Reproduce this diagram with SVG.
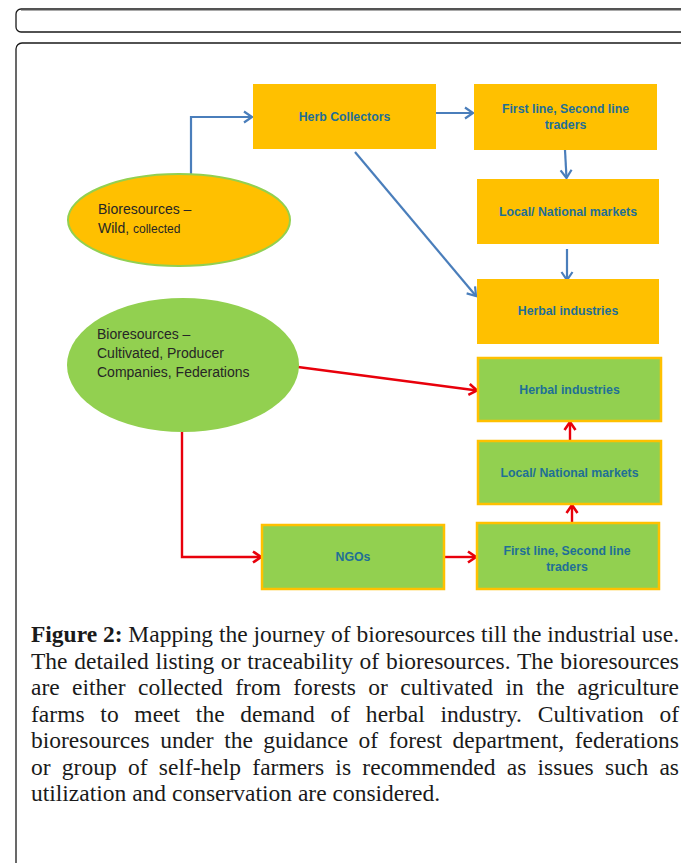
<svg xmlns="http://www.w3.org/2000/svg" width="681" height="863" viewBox="0 0 681 863">
<style>
.frame{fill:none;stroke:#1a1a1a;stroke-width:1.3}
.ybox{fill:#FFC000}
.gbox{fill:#92D050;stroke:#FFC000;stroke-width:2.5}
.lbl{font-family:"Liberation Sans",Arial,sans-serif;font-weight:bold;font-size:12.3px;fill:#1F6F96;text-anchor:middle}
.etx{font-family:"Liberation Sans",Arial,sans-serif;font-size:14px;fill:#262626}
.blue{fill:none;stroke:#4A7EBB;stroke-width:2.2;marker-end:url(#ab)}
.red{fill:none;stroke:#E8000B;stroke-width:2.4;marker-end:url(#ar)}
.cap{font-family:"Liberation Serif","Times New Roman",serif;font-size:23.5px;fill:#1a1a1a}
</style>
<defs>
<marker id="ab" markerUnits="userSpaceOnUse" markerWidth="12" markerHeight="14" refX="10" refY="7" orient="auto"><path d="M2,1.5 L10,7 L2,12.5" fill="none" stroke="#4A7EBB" stroke-width="2.2"/></marker>
<marker id="ar" markerUnits="userSpaceOnUse" markerWidth="12" markerHeight="14" refX="10" refY="7" orient="auto"><path d="M2,1.5 L10,7 L2,12.5" fill="none" stroke="#E8000B" stroke-width="2.6"/></marker>
</defs>
<rect width="681" height="863" fill="#fff"/>
<g id="frames">
<rect class="frame" x="16" y="9" width="720" height="23" rx="5"/>
<line x1="21" y1="9.5" x2="681" y2="9.5" stroke="#555" stroke-width="2"/>
<rect class="frame" x="16" y="43" width="720" height="900" rx="6"/>
</g>
<g id="connectors">
<path class="blue" d="M191,175 V117 H252"/>
<path class="blue" d="M436,113 H473"/>
<path class="blue" d="M565,150 L566.5,178"/>
<path class="blue" d="M567,249 V280"/>
<path class="blue" d="M355,152 L476,296"/>
<path class="red" d="M298,367 L477,390.5"/>
<path class="red" d="M182,432 V557 H261"/>
<path class="red" d="M444,557 H476"/>
<path class="red" d="M572,523 V505"/>
<path class="red" d="M570,441 V422"/>
</g>
<g id="wild">
<ellipse cx="179" cy="220" rx="111" ry="46" fill="#FFC000" stroke="#92D050" stroke-width="2"/>
<text class="etx" x="98" y="214">Bioresources –</text>
<text class="etx" x="98" y="233">Wild, <tspan font-size="12px">collected</tspan></text>
</g>
<g id="cultivated">
<ellipse cx="183" cy="365" rx="116" ry="67" fill="#92D050"/>
<text class="etx" x="97" y="339">Bioresources –</text>
<text class="etx" x="97" y="358">Cultivated, Producer</text>
<text class="etx" x="97" y="377">Companies,  Federations</text>
</g>
<g id="herb-collectors">
<rect class="ybox" x="253" y="84" width="183" height="65"/>
<text class="lbl" x="344.5" y="121">Herb Collectors</text>
</g>
<g id="traders-wild">
<rect class="ybox" x="474" y="84" width="183" height="66"/>
<text class="lbl" x="565.5" y="113">First line,  Second line</text>
<text class="lbl" x="565.5" y="129">traders</text>
</g>
<g id="markets-wild">
<rect class="ybox" x="477" y="179" width="182" height="65"/>
<text class="lbl" x="568" y="216">Local/ National markets</text>
</g>
<g id="industries-wild">
<rect class="ybox" x="477" y="279" width="182" height="65"/>
<text class="lbl" x="568" y="315">Herbal industries</text>
</g>
<g id="industries-cult">
<rect class="gbox" x="478" y="358" width="183" height="63"/>
<text class="lbl" x="569.5" y="394">Herbal industries</text>
</g>
<g id="markets-cult">
<rect class="gbox" x="478" y="441" width="183" height="63"/>
<text class="lbl" x="569.5" y="477">Local/ National markets</text>
</g>
<g id="traders-cult">
<rect class="gbox" x="477" y="523" width="182" height="66"/>
<text class="lbl" x="567" y="555">First line, Second line</text>
<text class="lbl" x="567" y="571">traders</text>
</g>
<g id="ngos">
<rect class="gbox" x="262" y="525" width="182" height="64"/>
<text class="lbl" x="353" y="561">NGOs</text>
</g>
<g id="caption">
<text class="cap" x="31" y="642" textLength="648" lengthAdjust="spacing"><tspan font-weight="bold">Figure 2:</tspan> Mapping the journey of bioresources till the industrial use.</text>
<text class="cap" x="31" y="668.5" textLength="648" lengthAdjust="spacing" word-spacing="0.8">The detailed listing or traceability of bioresources. The bioresources</text>
<text class="cap" x="31" y="695" textLength="648" lengthAdjust="spacing" word-spacing="6.5">are either collected from forests or cultivated in the agriculture</text>
<text class="cap" x="31" y="721.5" textLength="648" lengthAdjust="spacing" word-spacing="9.8">farms to meet the demand of herbal industry. Cultivation of</text>
<text class="cap" x="31" y="748" textLength="648" lengthAdjust="spacing" word-spacing="4.6">bioresources under the guidance of forest department, federations</text>
<text class="cap" x="31" y="774.5" textLength="648" lengthAdjust="spacing" word-spacing="5.4">or group of self-help farmers is recommended as issues such as</text>
<text class="cap" x="31" y="801">utilization and conservation are considered.</text>
</g>
</svg>
